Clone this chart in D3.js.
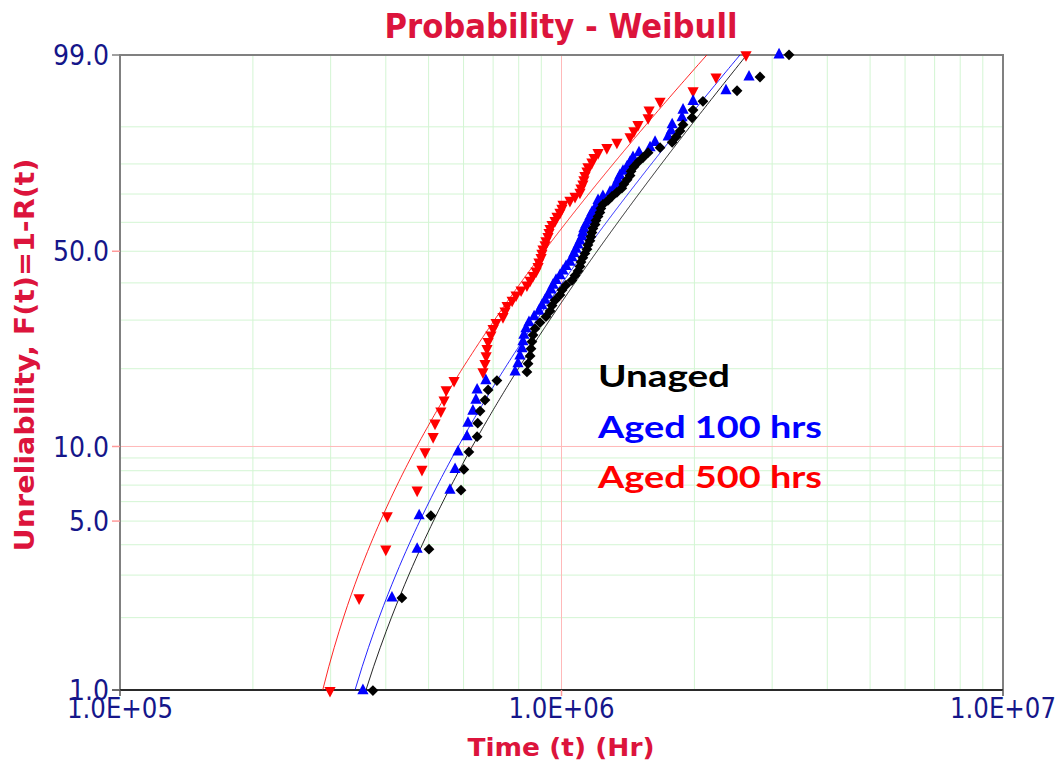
<!DOCTYPE html>
<html>
<head>
<meta charset="utf-8">
<script src="https://cdn.jsdelivr.net/npm/d3@7"></script>
<style>
  html, body { margin: 0; padding: 0; background: #fff; }
  svg { display: block; }
</style>
</head>
<body>
<svg id="chart" width="1064" height="770"></svg>
<script>
// Failure times (hours), sorted, one entry per specimen
const unagedTimes = [
  374000, 435000, 501000, 506000, 592000, 601000, 617000, 644000, 646000, 654000,
  671000, 682000, 714000, 835000, 840000, 849000, 853000, 857000, 862000, 871000,
  894000, 922000, 942000, 952000, 967000, 992000, 1003000, 1024000, 1056000, 1073000,
  1090000, 1101000, 1107000, 1118000, 1130000, 1142000, 1148000, 1160000, 1166000, 1172000,
  1178000, 1191000, 1197000, 1210000, 1222000, 1228000, 1241000, 1274000, 1301000, 1335000,
  1370000, 1385000, 1408000, 1430000, 1437000, 1459000, 1490000, 1530000, 1571000, 1672000,
  1781000, 1819000, 1856000, 1885000, 1976000, 1986000, 2091000, 2498000, 2816000, 3276000
];
const aged100Times = [
  355000, 413000, 471000, 476000, 559000, 574000, 583000, 611000, 614000, 630000,
  640000, 644000, 674000, 785000, 797000, 805000, 814000, 818000, 822000, 831000,
  844000, 867000, 889000, 903000, 918000, 932000, 947000, 957000, 972000, 992000,
  1008000, 1024000, 1045000, 1056000, 1067000, 1079000, 1090000, 1101000, 1113000, 1118000,
  1124000, 1136000, 1154000, 1160000, 1172000, 1191000, 1204000, 1210000, 1241000, 1288000,
  1314000, 1335000, 1342000, 1356000, 1378000, 1408000, 1430000, 1452000, 1498000, 1587000,
  1629000, 1744000, 1771000, 1781000, 1875000, 1885000, 1986000, 2358000, 2659000, 3110000
];
const aged500Times = [
  299000, 348000, 400000, 403000, 471000, 483000, 491000, 512000, 517000, 533000,
  542000, 548000, 571000, 664000, 671000, 675000, 678000, 682000, 692000, 700000,
  711000, 737000, 745000, 753000, 773000, 789000, 810000, 835000, 849000, 862000,
  876000, 885000, 889000, 899000, 903000, 908000, 918000, 922000, 932000, 937000,
  942000, 952000, 967000, 977000, 992000, 1002000, 1008000, 1045000, 1073000, 1101000,
  1107000, 1118000, 1124000, 1130000, 1142000, 1148000, 1172000, 1185000, 1210000, 1267000,
  1335000, 1430000, 1459000, 1490000, 1571000, 1579000, 1672000, 1986000, 2239000, 2618000
];

// 3-parameter Weibull fits: [beta, eta, gamma]
const unagedFit = [2.101, 1158000, 231000];
const aged100Fit = [2.012, 1079000, 231000];
const aged500Fit = [1.873, 849000, 215000];

const seriesNames = ["Unaged", "Aged 100 hrs", "Aged 500 hrs"];
const seriesColors = ["#000000", "#0000ff", "#ff0000"];

// Axis ticks
const yTickValues = [0.01, 0.05, 0.10, 0.50, 0.99];
const yTickLabels = ["1.0", "5.0", "10.0", "50.0", "99.0"];
const xTickValues = [1e5, 1e6, 1e7];
const xTickLabels = ["1.0E+05", "1.0E+06", "1.0E+07"];
const yGridValues = [0.02, 0.03, 0.04, 0.05, 0.06, 0.07, 0.08, 0.09, 0.2, 0.3, 0.4, 0.5, 0.6, 0.7, 0.8, 0.9];
const xGridValues = [2e5, 3e5, 4e5, 5e5, 6e5, 7e5, 8e5, 9e5, 2e6, 3e6, 4e6, 5e6, 6e6, 7e6, 8e6, 9e6];

// ---- layout ----
const plotL = 120, plotR = 1003, plotT = 55, plotB = 690;
const svg = d3.select("#chart");

const x = d3.scaleLog().domain([1e5, 1e7]).range([plotL, plotR]);
const weib = F => Math.log(-Math.log(1 - F));
const yLin = d3.scaleLinear().domain([weib(0.01), weib(0.99)]).range([plotB, plotT]);
const y = F => yLin(weib(F));

const gridGreen = "#d3f5d3";
const gridRed = "#ffb9b9";

// grid
const grid = svg.append("g");
grid.selectAll("line.vg").data(xGridValues).join("line")
  .attr("x1", d => x(d)).attr("x2", d => x(d)).attr("y1", plotT).attr("y2", plotB)
  .attr("stroke", gridGreen).attr("stroke-width", 1);
grid.selectAll("line.hg").data(yGridValues).join("line")
  .attr("x1", plotL).attr("x2", plotR).attr("y1", d => y(d)).attr("y2", d => y(d))
  .attr("stroke", gridGreen).attr("stroke-width", 1);
grid.append("line").attr("x1", x(1e6)).attr("x2", x(1e6)).attr("y1", plotT).attr("y2", plotB)
  .attr("stroke", gridRed).attr("stroke-width", 1);
grid.append("line").attr("x1", plotL).attr("x2", plotR).attr("y1", y(0.10)).attr("y2", y(0.10))
  .attr("stroke", gridRed).attr("stroke-width", 1);

// frame
const frame = svg.append("g").attr("fill", "none").attr("stroke-width", 2);
frame.append("path").attr("d", `M${plotL},${plotB}V${plotT}H${plotR}V${plotB}`).attr("stroke", "#808080");
frame.append("line").attr("x1", plotL - 8).attr("x2", plotR).attr("y1", plotB).attr("y2", plotB).attr("stroke", "#2a2a2a");

// tick marks
const tickColor = v => (v === 0.01 || v === 0.99) ? "#808080" : "#ff9a9a";
svg.append("g").selectAll("line").data(yTickValues).join("line")
  .attr("x1", plotL - 8).attr("x2", plotL).attr("y1", d => y(d)).attr("y2", d => y(d))
  .attr("stroke", d => tickColor(d)).attr("stroke-width", 1.5);
svg.append("g").selectAll("line").data(xTickValues).join("line")
  .attr("x1", d => x(d)).attr("x2", d => x(d)).attr("y1", plotB).attr("y2", plotB + 6)
  .attr("stroke", d => d === 1e6 ? "#ff9a9a" : "#555").attr("stroke-width", 1.5);

// tick labels
const tickFont = "'DejaVu Sans Condensed', 'DejaVu Sans', sans-serif";
const labelBlue = "#15168a";
svg.append("g").selectAll("text").data(yTickValues).join("text")
  .attr("x", 109).attr("y", d => y(d)).attr("dy", "0.36em")
  .attr("text-anchor", "end").attr("font-family", tickFont).attr("font-stretch", "condensed")
  .attr("font-size", 28).attr("fill", labelBlue)
  .text((d, i) => yTickLabels[i]);
svg.append("g").selectAll("text").data(xTickValues).join("text")
  .attr("x", d => x(d)).attr("y", 718)
  .attr("text-anchor", "middle").attr("font-family", tickFont).attr("font-stretch", "condensed")
  .attr("font-size", 28).attr("fill", labelBlue)
  .attr("textLength", 106).attr("lengthAdjust", "spacingAndGlyphs")
  .text((d, i) => xTickLabels[i]);

// titles
const crimson = "#dc143c";
svg.append("text").attr("x", 561).attr("y", 38).attr("text-anchor", "middle")
  .attr("font-family", tickFont).attr("font-weight", "bold").attr("font-size", 33)
  .attr("fill", crimson).attr("textLength", 353).attr("lengthAdjust", "spacingAndGlyphs")
  .text("Probability - Weibull");
svg.append("text").attr("x", 561).attr("y", 756).attr("text-anchor", "middle")
  .attr("font-family", tickFont).attr("font-weight", "bold").attr("font-size", 24)
  .attr("fill", crimson).attr("textLength", 187).attr("lengthAdjust", "spacingAndGlyphs")
  .text("Time (t) (Hr)");
svg.append("text").attr("transform", "translate(34,355) rotate(-90)").attr("text-anchor", "middle")
  .attr("font-family", tickFont).attr("font-weight", "bold").attr("font-size", 27)
  .attr("fill", crimson).attr("textLength", 393).attr("lengthAdjust", "spacingAndGlyphs")
  .text("Unreliability, F(t)=1-R(t)");

// data series
const series = [
  { times: unagedTimes, fit: unagedFit, color: seriesColors[0], marker: "diamond" },
  { times: aged100Times, fit: aged100Fit, color: seriesColors[1], marker: "up" },
  { times: aged500Times, fit: aged500Fit, color: seriesColors[2], marker: "down" }
];

// Benard median ranks
const medianRank = (i, n) => (i + 1 - 0.3) / (n + 0.4);

// marker shapes (centred on the point)
const markerPaths = {
  up: "M0,-7L5.6,3.6L-5.6,3.6Z",
  down: "M0,7L5.6,-3.6L-5.6,-3.6Z",
  diamond: "M0,-5.4L5.4,0L0,5.4L-5.4,0Z"
};

// fitted curves
const fitF = d3.range(0.01, 0.99, 0.0025).concat([0.99]);
const lineGen = d3.line().x(d => x(d[0])).y(d => y(d[1]));
series.forEach(s => {
  const [beta, eta, gamma] = s.fit;
  const pts = fitF.map(F => [gamma + eta * Math.pow(-Math.log(1 - F), 1 / beta), F]);
  svg.append("path").attr("d", lineGen(pts)).attr("fill", "none")
    .attr("stroke", s.color).attr("stroke-width", 1).attr("opacity", 0.85);
});

// points: aged 500 first, then aged 100, unaged on top
[series[2], series[1], series[0]].forEach(s => {
  const n = s.times.length;
  svg.append("g").selectAll("path").data(s.times).join("path")
    .attr("transform", (d, i) => `translate(${x(d)},${y(medianRank(i, n))})`)
    .attr("d", markerPaths[s.marker])
    .attr("fill", s.color);
});

// legend
const legendY = [387, 438, 488];
const legendLen = [132, 224, 224];
svg.append("g").selectAll("text").data(seriesNames).join("text")
  .attr("x", 598).attr("y", (d, i) => legendY[i])
  .attr("font-family", "Lato, 'Open Sans', sans-serif").attr("font-weight", "bold")
  .attr("font-size", 30).attr("fill", (d, i) => seriesColors[i])
  .attr("textLength", (d, i) => legendLen[i]).attr("lengthAdjust", "spacingAndGlyphs")
  .text(d => d);
</script>
</body>
</html>
